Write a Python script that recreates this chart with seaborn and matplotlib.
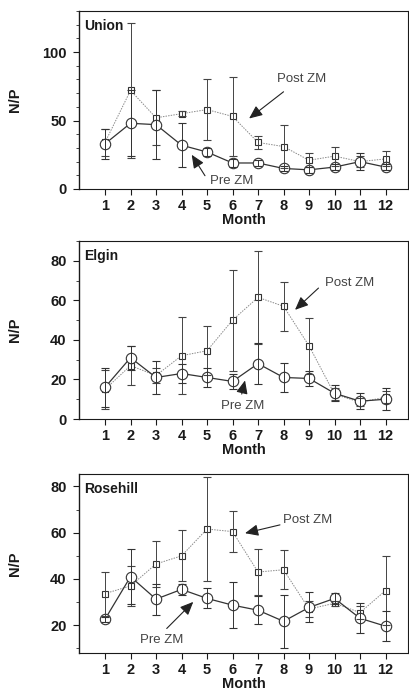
import numpy as np
import pandas as pd
import matplotlib
matplotlib.use("Agg")
import matplotlib.pyplot as plt
import seaborn as sns
from matplotlib.ticker import MultipleLocator

sns.set_theme(style="ticks")
plt.rcParams['font.family'] = ['Liberation Sans', 'DejaVu Sans']

months = list(range(1, 13))

# Union
union_pre = [33, 48, 47, 32, 27, 19, 19, 15, 14, 16, 20, 16]
union_pre_sd = [11, 24, 25, 16, 3, 3, 2, 2, 2, 2, 6, 2]
union_post = [34, 72, 52, 55, 58, 53, 34, 31, 21, 24, 20, 22]
union_post_sd = [10, 49, 20, 2, 22, 29, 5, 16, 5, 7, 4, 5.5]

# Elgin
elgin_pre = [16, 31, 21, 23, 21, 19, 28, 21, 20.5, 13, 9, 10]
elgin_pre_sd = [10, 6, 8.5, 5, 5, 4, 10.5, 7.5, 4, 4, 4, 5.5]
elgin_post = [15, 27, 22, 32, 34.5, 50, 61.5, 57, 37, 12.5, 8.5, 11]
elgin_post_sd = [10, 10, 4, 19.5, 12.5, 25.5, 23.5, 12.3, 14, 3, 2, 3]

# Rosehill
rose_pre = [22.6, 41, 31.3, 35.5, 31.6, 28.7, 26.5, 21.7, 27.7, 31.6, 23, 19.6]
rose_pre_sd = [1, 12, 6.7, 2.5, 4.3, 10, 6, 11.5, 6.5, 2.5, 6.5, 6.5]
rose_post = [33.7, 37, 46.5, 50, 61.6, 60.5, 43, 44, 27, 29.5, 25.5, 35]
rose_post_sd = [9.5, 8.5, 10, 11, 22.5, 9, 10, 8.5, 3.5, 1, 3, 15]

panels = [
    dict(name="Union", pre=union_pre, pre_sd=union_pre_sd, post=union_post, post_sd=union_post_sd,
         ylim=(0, 130), major=50, minor=10,
         post_txt=(7.75, 80), post_tail=(8.0, 71), post_tip=(6.65, 51.5),
         pre_txt=(5.12, 5.5), pre_tail=(4.92, 9.7), pre_tip=(4.4, 25)),
    dict(name="Elgin", pre=elgin_pre, pre_sd=elgin_pre_sd, post=elgin_post, post_sd=elgin_post_sd,
         ylim=(0, 90), major=20, minor=10,
         post_txt=(9.63, 68.7), post_tail=(9.37, 66.2), post_tip=(8.45, 55.2),
         pre_txt=(5.55, 6.4), pre_tail=(6.36, 12.6), pre_tip=(6.49, 19.5)),
    dict(name="Rosehill", pre=rose_pre, pre_sd=rose_pre_sd, post=rose_post, post_sd=rose_post_sd,
         ylim=(8, 85.4), major=20, minor=10,
         post_txt=(7.98, 65.5), post_tail=(7.86, 63.4), post_tip=(6.49, 59.8),
         pre_txt=(2.37, 13.5), pre_tail=(3.42, 18.6), pre_tip=(4.46, 30.1)),
]

W, H = 410, 694
fig = plt.figure(figsize=(W / 100, H / 100), dpi=100)
boxes = [(11, 189), (241, 419), (474, 653)]
left_px, right_px = 79, 408

ink = "#1a1a1a"
for p, (top, bot) in zip(panels, boxes):
    ax = fig.add_axes([left_px / W, 1 - bot / H, (right_px - left_px) / W, (bot - top) / H])
    df_pre = pd.DataFrame({"Month": months, "NP": p["pre"]})
    df_post = pd.DataFrame({"Month": months, "NP": p["post"]})

    sns.lineplot(data=df_post, x="Month", y="NP", ax=ax, color="#8a8a8a", lw=0.7,
                 linestyle=(0, (1.5, 1.2)), marker="s", markersize=4.5,
                 markerfacecolor="white", markeredgecolor="#333333", markeredgewidth=0.8,
                 zorder=3)
    sns.lineplot(data=df_pre, x="Month", y="NP", ax=ax, color="#333333", lw=0.9,
                 marker="o", markersize=7.5, markerfacecolor="white",
                 markeredgecolor="#333333", markeredgewidth=0.8, zorder=3.5)
    ax.errorbar(months, p["post"], yerr=p["post_sd"], fmt="none", ecolor="#444444",
                elinewidth=0.7, capsize=3.2, capthick=0.8, zorder=4)
    ax.errorbar(months, p["pre"], yerr=p["pre_sd"], fmt="none", ecolor="#333333",
                elinewidth=0.7, capsize=3.2, capthick=0.8, zorder=4)

    ax.set_xlim(-0.02, 12.88)
    ax.set_ylim(*p["ylim"])
    ax.set_xticks(months)
    ax.yaxis.set_major_locator(MultipleLocator(p["major"]))
    ax.yaxis.set_minor_locator(MultipleLocator(p["minor"]))
    ax.tick_params(axis="both", which="major", direction="out", length=4, width=0.8,
                   labelsize=10.5, pad=3, colors=ink)
    ax.tick_params(axis="y", which="major", pad=5)
    ax.tick_params(axis="y", which="minor", direction="out", length=2, width=0.6)
    for lab in ax.get_xticklabels() + ax.get_yticklabels():
        lab.set_fontweight("bold")
    for s in ax.spines.values():
        s.set_visible(True)
        s.set_linewidth(0.8)
        s.set_color(ink)
    ax.spines["left"].set_linewidth(1.0)

    ax.set_xlabel("Month", fontsize=10.5, fontweight="bold", color=ink)
    ax.xaxis.set_label_coords(0.5, -0.135)
    ax.set_ylabel("N/P", fontsize=10.5, fontweight="bold", color=ink)
    ax.yaxis.set_label_coords((22 - left_px) / (right_px - left_px), 0.5)

    ax.text(0.015, 0.955, p["name"], transform=ax.transAxes, ha="left", va="top",
            fontsize=10, fontweight="bold", color=ink)

    ax.text(*p["post_txt"], "Post ZM", ha="left", va="center", fontsize=9.5, color="#444444")
    ax.text(*p["pre_txt"], "Pre ZM", ha="left", va="center", fontsize=9.5, color="#444444")
    for tail, tip in [(p["post_tail"], p["post_tip"]), (p["pre_tail"], p["pre_tip"])]:
        ax.annotate("", xy=tip, xytext=tail,
                    arrowprops=dict(arrowstyle="-|>,head_length=0.8,head_width=0.35",
                                    color="#222222", lw=0.8, shrinkA=0, shrinkB=0,
                                    mutation_scale=10))

fig.savefig("out.png", dpi=100, facecolor="white")
